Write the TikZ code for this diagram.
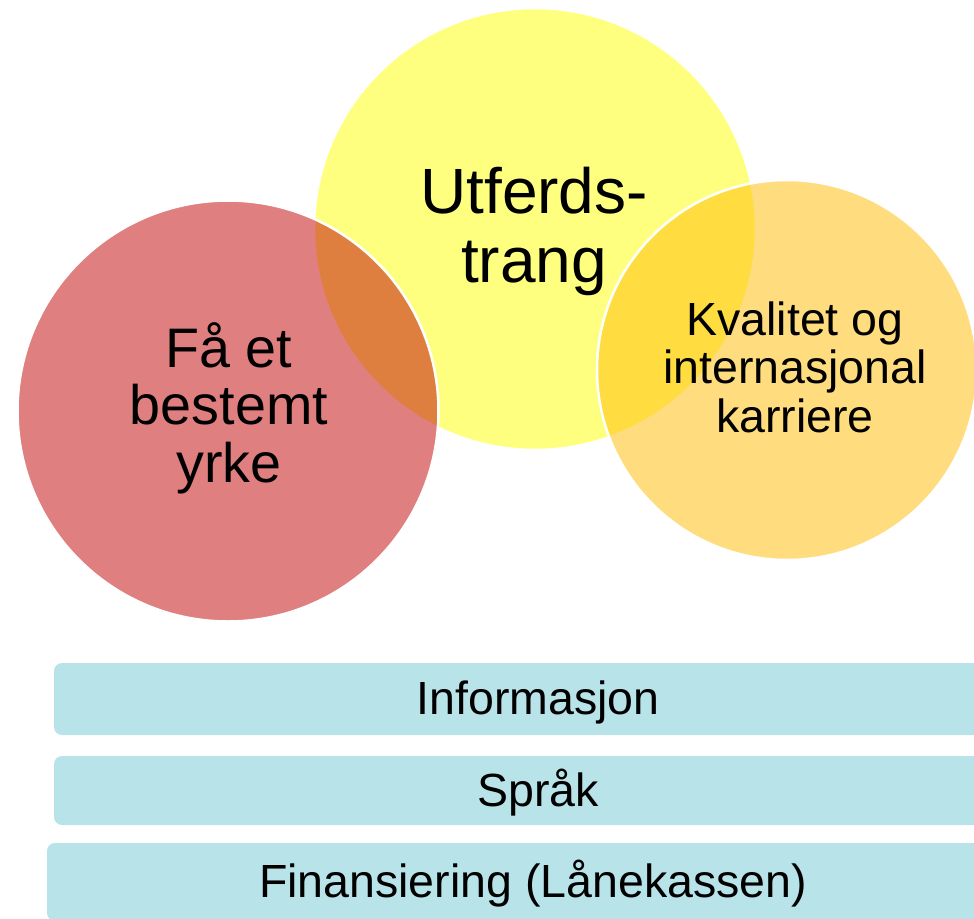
\documentclass[tikz,border=0pt]{standalone}
\usepackage{fontspec}
\setmainfont{Liberation Sans}
\definecolor{vennyellow}{RGB}{255,255,0}
\definecolor{vennred}{RGB}{192,0,0}
\definecolor{vennorange}{RGB}{255,187,0}
\definecolor{barblue}{RGB}{183,227,233}
\begin{document}
\begin{tikzpicture}[x=1pt,y=-1pt,
  venn/.style={circle, draw=white, line width=2.5pt, fill opacity=0.5, inner sep=0pt, outer sep=0pt},
  bar/.style={rectangle, rounded corners=8pt, fill=barblue, draw=none, inner sep=0pt,
    font=\fontsize{46.5}{48}\selectfont, text height=33.5pt, text depth=2.3pt},
  lbl/.style={align=center, inner sep=0pt, anchor=base}]
\useasboundingbox (0,0) rectangle (974,918);
\clip (0,0) rectangle (974,918);
% circles
\node[venn, fill=vennyellow, minimum size=442pt] (yellow) at (535,229) {};
\node[venn, fill=vennred, minimum size=421pt] (red) at (228,411) {};
\node[venn, fill=vennorange, minimum size=380pt] (orange) at (787,370) {};
% circle labels (anchor base = last line baseline)
\node[lbl, font=\fontsize{64}{69}\selectfont] (utf) at (534,282) {Utferds-\\trang};
\node[lbl, font=\fontsize{55.7}{57.5}\selectfont] (yrke) at (229,482) {Få et\\bestemt\\yrke};
\node[lbl, font=\fontsize{46.5}{48.5}\selectfont] (kval) at (795,432) {Kvalitet og\\internasjonal\\karriere};
% bars
\node[bar, minimum width=968pt, minimum height=72pt] (info) at (538,699) {Informasjon};
\node[bar, minimum width=968pt, minimum height=69pt] (sprak) at (538,790.5) {Språk};
\node[bar, minimum width=972pt, minimum height=78pt] (finans) at (533,882) {Finansiering (Lånekassen)};
\end{tikzpicture}
\end{document}
